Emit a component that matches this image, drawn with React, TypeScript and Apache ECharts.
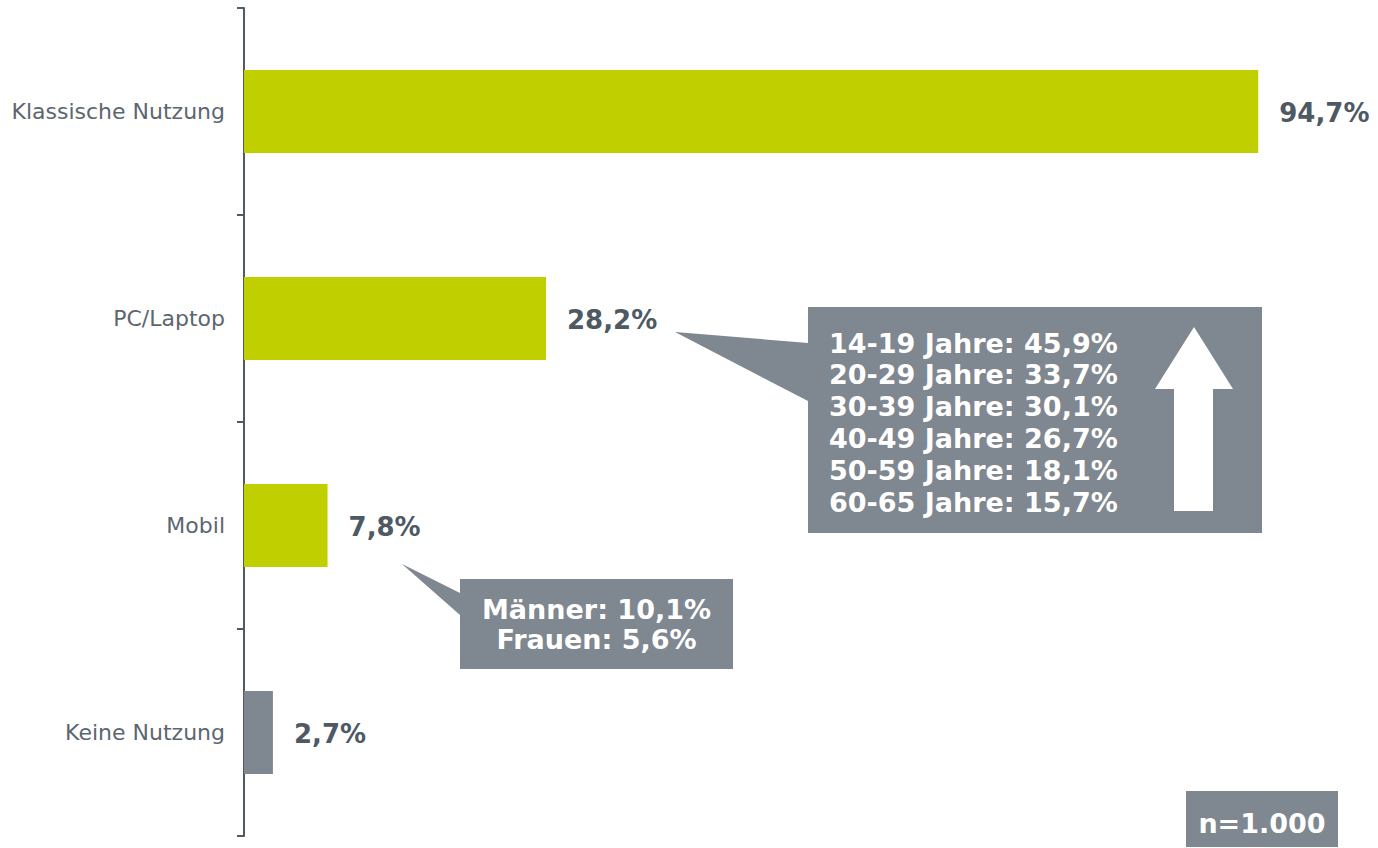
import React, { useEffect, useRef } from "react";
import * as echarts from "echarts";

const categories = ["Klassische Nutzung", "PC/Laptop", "Mobil", "Keine Nutzung"];
const shares = [94.7, 28.2, 7.8, 2.7];
const barColors = ["#c0cf00", "#c0cf00", "#c0cf00", "#7f8790"];
const ageGroups = ["14-19", "20-29", "30-39", "40-49", "50-59", "60-65"];
const ageShares = [45.9, 33.7, 30.1, 26.7, 18.1, 15.7];
const genderLabels = ["Männer", "Frauen"];
const genderShares = [10.1, 5.6];
const sampleSize = "1.000";

const fmt = (v: number) => v.toFixed(1).replace(".", ",") + "%";

const GREY = "#7f8790";
const AXIS = "#505a64";
const FONT = "DejaVu Sans";

export default function App() {
  const ref = useRef<HTMLDivElement>(null);
  useEffect(() => {
    if (!ref.current) return;
    const chart = echarts.init(ref.current, null, { renderer: "svg" });

    const ageTexts = ageGroups.map((g, i) => ({
      type: "text",
      x: 829,
      y: 343 + i * 31.8,
      style: {
        text: `${g} Jahre: ${fmt(ageShares[i])}`,
        fill: "#ffffff",
        font: `bold 27px "${FONT}"`,
        align: "left",
        verticalAlign: "middle",
      },
    }));

    const genderTexts = genderLabels.map((g, i) => ({
      type: "text",
      x: 596.5,
      y: 609 + i * 30.5,
      style: {
        text: `${g}: ${fmt(genderShares[i])}`,
        fill: "#ffffff",
        font: `bold 27px "${FONT}"`,
        align: "center",
        verticalAlign: "middle",
      },
    }));

    chart.setOption({
      animation: false,
      grid: { left: 244, top: 8, bottom: 12, right: 63, containLabel: false },
      xAxis: { type: "value", min: 0, max: 100, show: false },
      yAxis: {
        type: "category",
        data: categories,
        inverse: true,
        axisLine: { show: true, lineStyle: { color: AXIS, width: 2 } },
        axisTick: { show: true, length: 7, lineStyle: { color: AXIS, width: 2 } },
        axisLabel: { color: "#5c6670", fontSize: 22, fontFamily: FONT, margin: 19 },
        splitLine: { show: false },
      },
      series: [
        {
          type: "bar",
          barWidth: 83,
          data: shares.map((v, i) => ({ value: v, itemStyle: { color: barColors[i] } })),
          label: {
            show: true,
            position: "right",
            distance: 21,
            offset: [0, 1],
            formatter: (p: any) => fmt(p.value),
            color: "#4e5964",
            fontSize: 26,
            fontWeight: "bold",
            fontFamily: FONT,
          },
        },
      ],
      graphic: [
        {
          type: "polygon",
          shape: { points: [[675, 332], [808, 343], [808, 401]] },
          style: { fill: GREY },
        },
        { type: "rect", shape: { x: 808, y: 307, width: 454, height: 226 }, style: { fill: GREY } },
        {
          type: "polygon",
          shape: {
            points: [
              [1194, 327], [1233, 389], [1213, 389], [1213, 511],
              [1174, 511], [1174, 389], [1155, 389],
            ],
          },
          style: { fill: "#ffffff" },
        },
        ...ageTexts,
        {
          type: "polygon",
          shape: { points: [[402, 564], [460, 593], [460, 615]] },
          style: { fill: GREY },
        },
        { type: "rect", shape: { x: 460, y: 579, width: 273, height: 90 }, style: { fill: GREY } },
        ...genderTexts,
        { type: "rect", shape: { x: 1186, y: 791, width: 152, height: 56 }, style: { fill: GREY } },
        {
          type: "text",
          x: 1262,
          y: 823,
          style: {
            text: `n=${sampleSize}`,
            fill: "#ffffff",
            font: `bold 27px "${FONT}"`,
            align: "center",
            verticalAlign: "middle",
          },
        },
      ],
    });
    return () => chart.dispose();
  }, []);
  return (
    <div
      ref={ref}
      style={{ position: "fixed", left: 0, top: 0, width: 1378, height: 848, background: "#fff" }}
    />
  );
}
